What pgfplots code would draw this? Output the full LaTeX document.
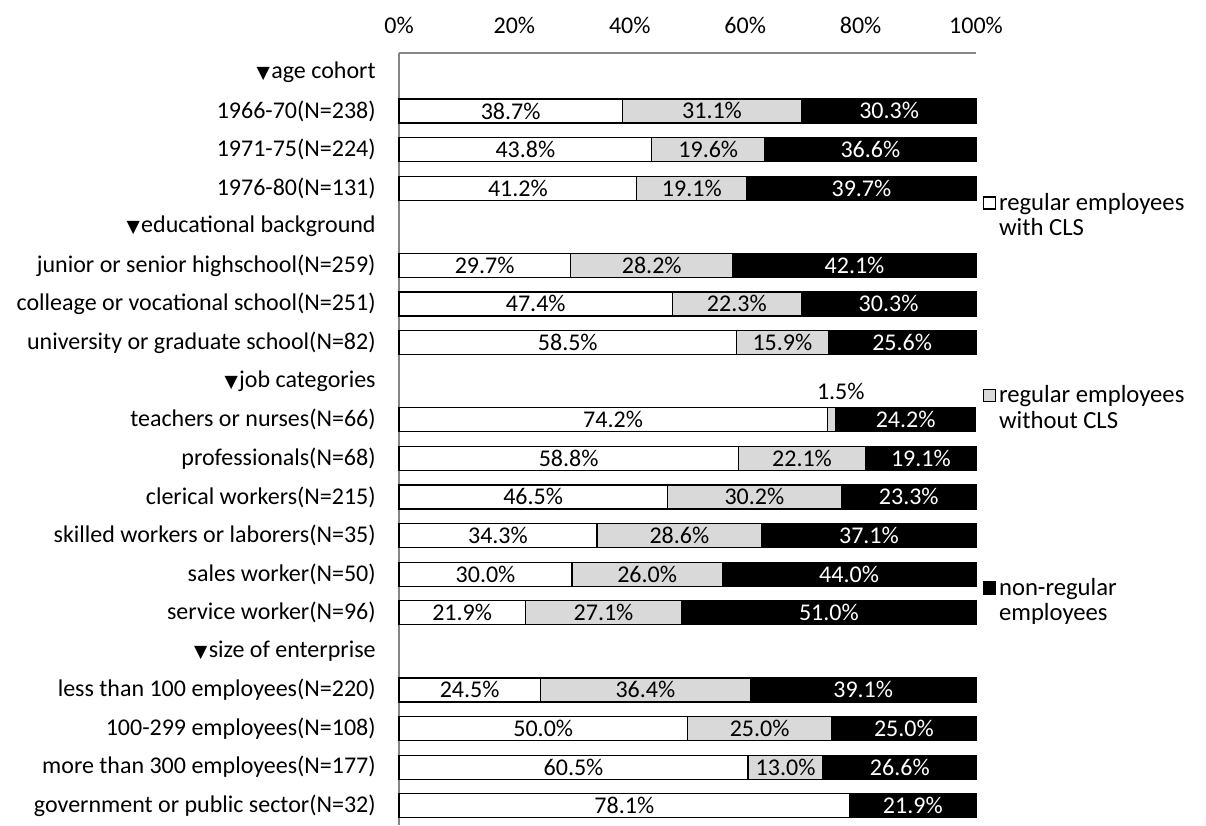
\documentclass[border=0pt]{standalone}
\usepackage{pgfplots}
\pgfplotsset{compat=1.18}
\usepackage{fontspec}
\setmainfont{Carlito}
\newfontfamily\symfont{DejaVu Sans}
\definecolor{axgray}{HTML}{868686}
\definecolor{midgray}{HTML}{D9D9D9}
\newcommand\tri{{\symfont\fontsize{13}{13}\selectfont ▼}\hspace{1pt}}
\newcommand\seglabel{%
  \begingroup
  \pgfkeys{/pgf/fpu=true}%
  \pgfmathfloattofixed{\pgfplotspointmeta}%
  \xdef\myval{\pgfmathresult}%
  \endgroup
  \ifdim\myval pt<0.1pt\relax
  \else\ifdim\myval pt<2pt\relax
    \smash{\raisebox{15pt}{\hspace{14pt}\pgfmathprintnumber[fixed,fixed zerofill,precision=1,assume math mode=true]{\myval}\%}}%
  \else
    \pgfmathprintnumber[fixed,fixed zerofill,precision=1,assume math mode=true]{\myval}\%%
  \fi\fi}
\begin{document}
\begin{tikzpicture}
\begin{axis}[
  scale only axis, width=432.75pt, height=579pt,
  font=\fontsize{18}{19}\selectfont,
  xbar stacked, bar width=18pt,
  xmin=0, xmax=100, ymin=-0.5, ymax=19.5, y dir=reverse,
  clip=false,
  axis x line*=top, axis y line*=left,
  axis line style={axgray, line width=1pt},
  major tick length=0pt,
  xtick={0,20,40,60,80,100},
  xticklabels={0\%,20\%,40\%,60\%,80\%,100\%},
  xticklabel style={yshift=11pt},
  ytick={0,...,19},
  yticklabels={
    {\tri age cohort},
    {1966-70(N=238)},
    {1971-75(N=224)},
    {1976-80(N=131)},
    {\tri educational background},
    {junior or senior highschool(N=259)},
    {colleage or vocational school(N=251)},
    {university or graduate school(N=82)},
    {\tri job categories},
    {teachers or nurses(N=66)},
    {professionals(N=68)},
    {clerical workers(N=215)},
    {skilled workers or laborers(N=35)},
    {sales worker(N=50)},
    {service worker(N=96)},
    {\tri size of enterprise},
    {less than 100 employees(N=220)},
    {100-299 employees(N=108)},
    {more than 300 employees(N=177)},
    {government or public sector(N=32)}},
  yticklabel style={xshift=-14pt},
  point meta=rawx,
  nodes near coords={\seglabel},
  every node near coord/.append style={anchor=center},
  area legend,
  legend image post style={yshift=9.4pt, xscale=0.527, yscale=1.58},
  legend cell align=left,
  legend style={draw=none, fill=none, at={(1.012,0.822)}, anchor=north west,
    font=\fontsize{18.5}{19}\selectfont,
    row sep=107pt, column sep=0pt, cells={align=left}, inner sep=0pt},
]
\addplot[fill=white, draw=black, line width=0.9pt] coordinates {
 (38.7,1) (43.8,2) (41.2,3)
 (29.7,5) (47.4,6) (58.5,7)
 (74.2,9) (58.8,10) (46.5,11) (34.3,12) (30.0,13) (21.9,14)
 (24.5,16) (50.0,17) (60.5,18) (78.1,19)
};
\addlegendentry{{regular employees\\with CLS}}
\addplot[fill=midgray, draw=black, line width=0.9pt] coordinates {
 (31.1,1) (19.6,2) (19.1,3)
 (28.2,5) (22.3,6) (15.9,7)
 (1.5,9) (22.1,10) (30.2,11) (28.6,12) (26.0,13) (27.1,14)
 (36.4,16) (25.0,17) (13.0,18) (0,19)
};
\addlegendentry{{regular employees\\without CLS}}
\addplot[fill=black, draw=black, line width=0.9pt, every node near coord/.append style={white}] coordinates {
 (30.3,1) (36.6,2) (39.7,3)
 (42.1,5) (30.3,6) (25.6,7)
 (24.2,9) (19.1,10) (23.3,11) (37.1,12) (44.0,13) (51.0,14)
 (39.1,16) (25.0,17) (26.6,18) (21.9,19)
};
\addlegendentry{{non-regular\\employees}}
\end{axis}
\pgfresetboundingbox
\useasboundingbox (current axis.south west) ++(-299.25pt,4.5pt) rectangle ++(904.5pt,614.25pt);
\end{tikzpicture}
\end{document}
